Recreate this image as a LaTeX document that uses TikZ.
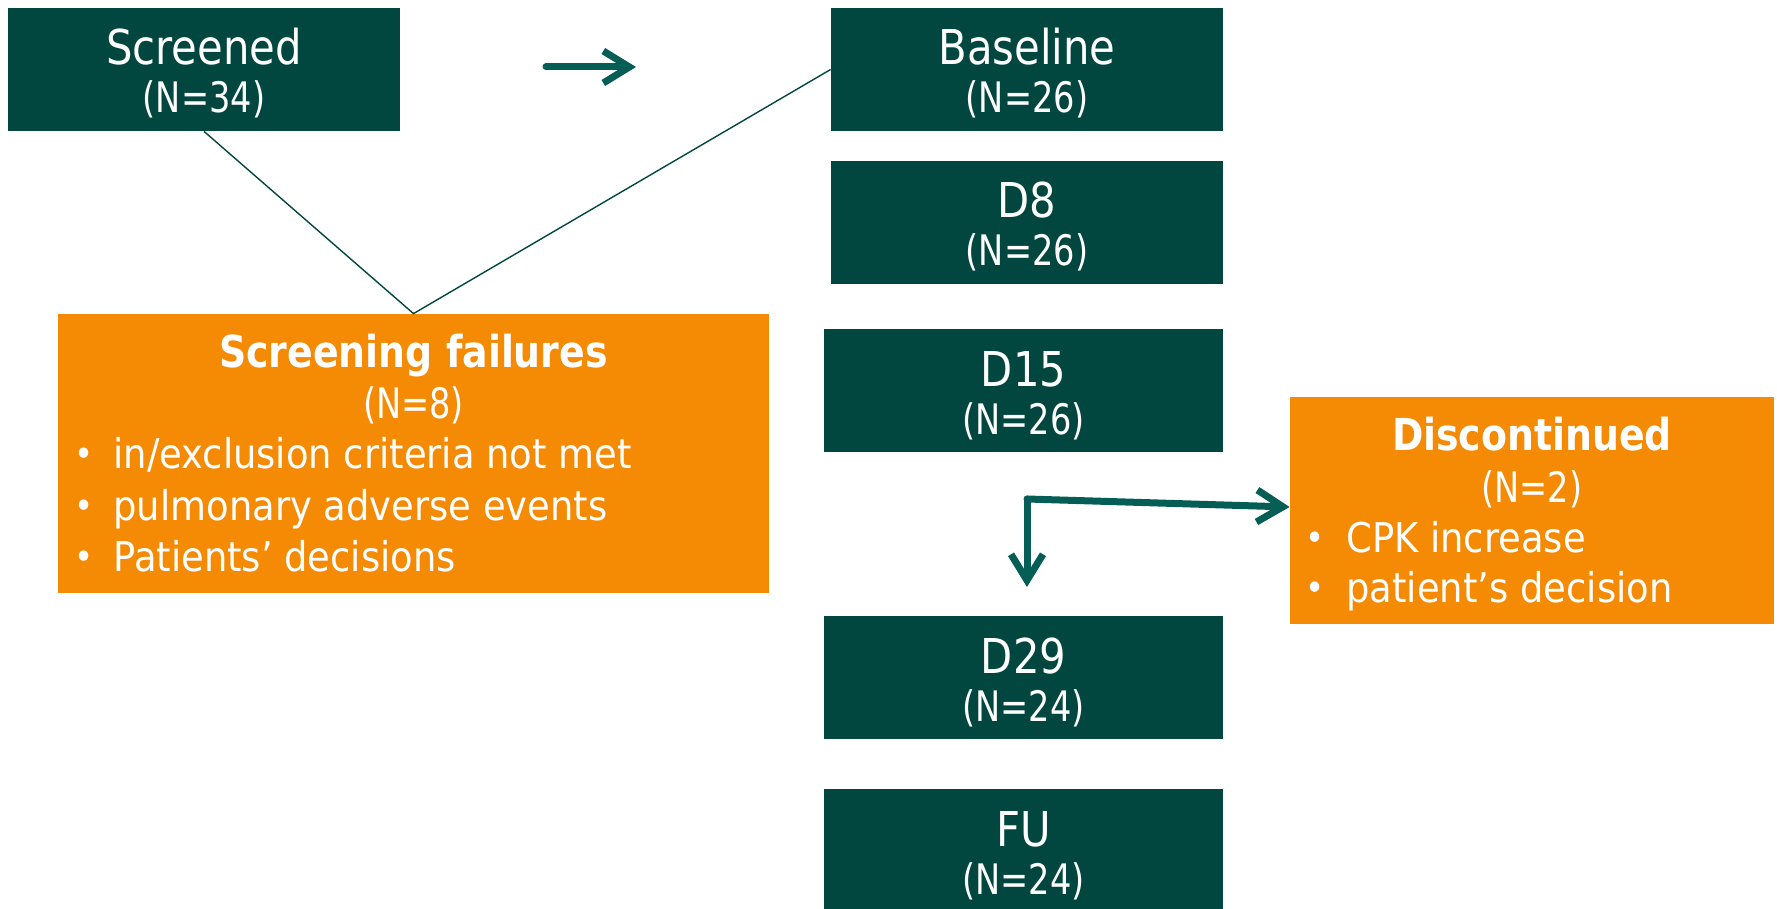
\documentclass[tikz,border=0pt]{standalone}
\usepackage{fontspec}
\setmainfont{DejaVu Sans}[FakeStretch=0.87]
\newfontfamily\nfont{DejaVu Sans}[FakeStretch=0.8]
\newfontfamily\bfont{DejaVu Sans}[FakeStretch=0.9]
\newfontfamily\tfont{DejaVu Sans}[FakeStretch=0.86]
\usetikzlibrary{arrows.meta}
\definecolor{dkgreen}{HTML}{02473F}
\definecolor{teal}{HTML}{045E55}
\definecolor{orng}{HTML}{F58A04}
\tikzset{
  gbox/.style={rectangle, fill=dkgreen, draw=none, inner sep=0pt},
  obox/.style={rectangle, fill=orng, draw=none, inner sep=0pt},
  ttl/.style={anchor=base, text=white, inner sep=0pt, font=\fontsize{24}{28}\selectfont},
  nn/.style={anchor=base, text=white, inner sep=0pt, font=\nfont\fontsize{21}{25}\selectfont},
  otl/.style={anchor=base, text=white, inner sep=0pt, font=\tfont\bfseries\fontsize{22}{26}\selectfont},
  bul/.style={anchor=base, text=white, inner sep=0pt, font=\bfont\fontsize{18}{24}\selectfont},
  btx/.style={anchor=base west, text=white, inner sep=0pt, font=\bfont\fontsize{20.5}{24}\selectfont},
  thin/.style={draw=dkgreen, line width=0.7pt},
  arr/.style={draw=teal, line width=3.5pt, line cap=round, line join=round, -{Straight Barb[length=13pt,width=16pt]}},
}
\begin{document}
\begin{tikzpicture}[x=0.5pt, y=-0.5pt]
\useasboundingbox[fill=white] (0,0) rectangle (1777,909);
% green boxes
\node[gbox, minimum width=196pt, minimum height=61.5pt] (scr) at (204,69.5) {};
\node[gbox, minimum width=196pt, minimum height=61.5pt] (base) at (1027,69.5) {};
\node[gbox, minimum width=196pt, minimum height=61.5pt] (d8) at (1027,222.5) {};
\node[gbox, minimum width=199.5pt, minimum height=61.5pt] (d15) at (1023.5,390.5) {};
\node[gbox, minimum width=199.5pt, minimum height=61.5pt] (d29) at (1023.5,677.5) {};
\node[gbox, minimum width=199.5pt, minimum height=60pt] (fu) at (1023.5,849) {};
% orange boxes
\node[obox, minimum width=355.5pt, minimum height=139.5pt] (fail) at (413.5,453.5) {};
\node[obox, minimum width=242pt, minimum height=113.5pt] (disc) at (1532,510.5) {};
% texts green
\node[ttl] (scrt) at (204,65) {Screened};
\node[nn] (scrn) at (204,113) {(N=34)};
\node[ttl] (baset) at (1027,65) {Baseline};
\node[nn] (basen) at (1027,113) {(N=26)};
\node[ttl] (d8t) at (1027,218) {D8};
\node[nn] (d8n) at (1027,266) {(N=26)};
\node[ttl] (d15t) at (1023.5,386) {D15};
\node[nn] (d15n) at (1023.5,434) {(N=26)};
\node[ttl] (d29t) at (1023.5,673) {D29};
\node[nn] (d29n) at (1023.5,721) {(N=24)};
\node[ttl] (fut) at (1023.5,846) {FU};
\node[nn] (fun) at (1023.5,894) {(N=24)};
% texts screening failures
\node[otl] (failt) at (413.5,367) {Screening failures};
\node[nn] (failn) at (413.5,418) {(N=8)};
\node[bul] (fb1) at (84,466) {•};
\node[btx] (ft1) at (113,468) {in/exclusion criteria not met};
\node[bul] (fb2) at (84,518) {•};
\node[btx] (ft2) at (113,520) {pulmonary adverse events};
\node[bul] (fb3) at (84,569) {•};
\node[btx] (ft3) at (113,571) {Patients’ decisions};
% texts discontinued
\node[otl] (disct) at (1532,450) {Discontinued};
\node[nn] (discn) at (1532,502) {(N=2)};
\node[bul] (db1) at (1315,550) {•};
\node[btx] (dt1) at (1346,552) {CPK increase};
\node[bul] (db2) at (1315,600) {•};
\node[btx] (dt2) at (1346,602) {patient’s decision};
% connectors
\draw[thin] (scr.south) -- (fail.north) -- (base.west);
\coordinate (a1) at (546,67);
\coordinate (a2) at (636,67);
\draw[arr] (a1) -- (a2);
\coordinate (j) at (1027,499);
\coordinate (jd) at (1027,587);
\draw[arr] (j) -- ([yshift=1.75pt]disc.west);
\draw[arr] (j) -- (jd);
\end{tikzpicture}
\end{document}
